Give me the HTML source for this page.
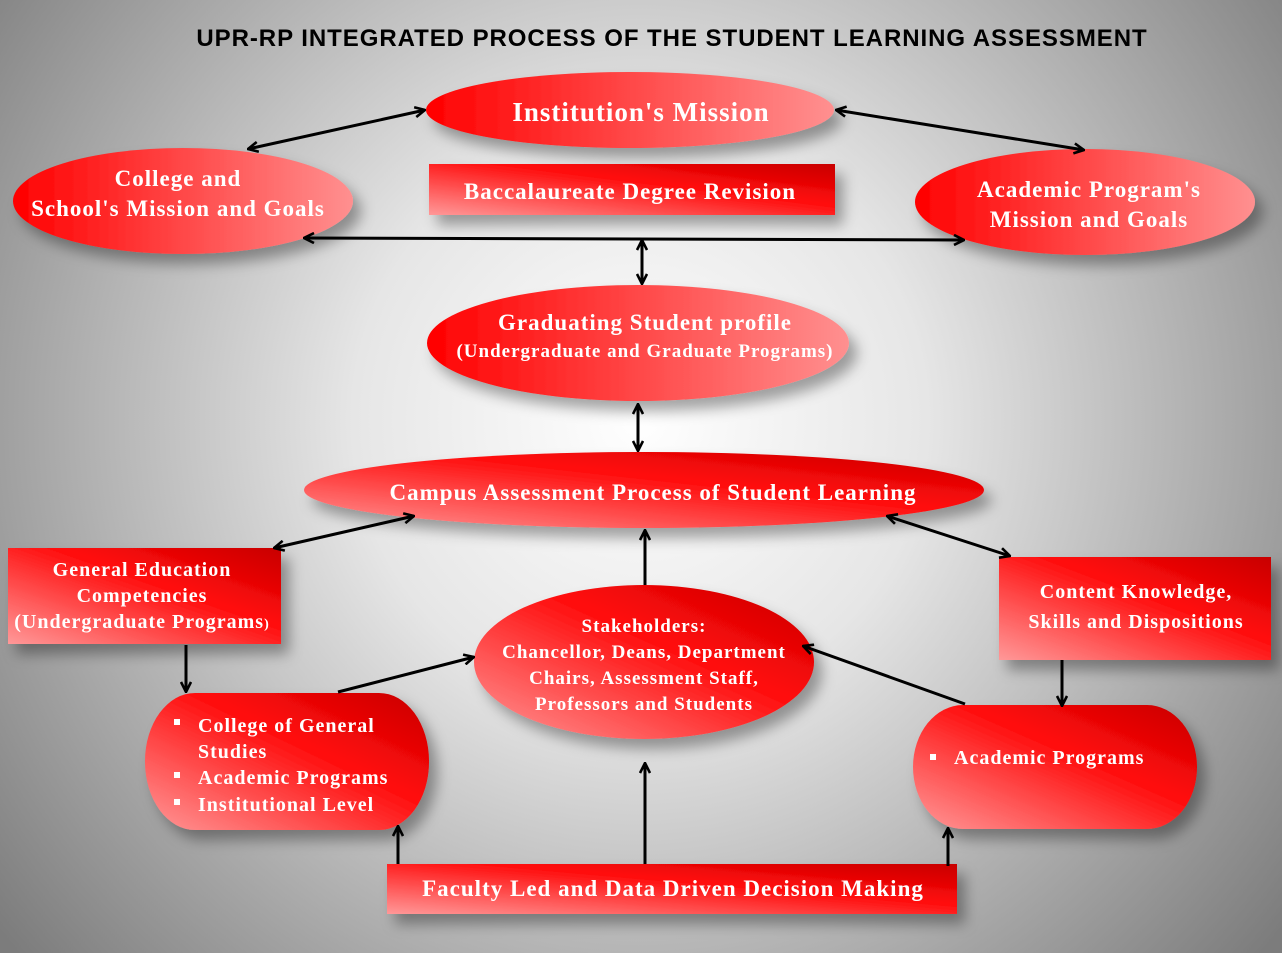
<!DOCTYPE html>
<html><head><meta charset="utf-8"><style>
html,body{margin:0;padding:0;}
body{width:1282px;height:953px;overflow:hidden;}
svg text{font-family:"Liberation Serif",serif;font-weight:bold;fill:#fff;letter-spacing:1px;}
</style></head><body>
<svg width="1282" height="953" xmlns="http://www.w3.org/2000/svg">
<defs>
<radialGradient id="bg" cx="640" cy="420" r="820" gradientUnits="userSpaceOnUse">
<stop offset="0" stop-color="#ffffff"/><stop offset="0.35" stop-color="#e6e6e6"/><stop offset="1" stop-color="#7c7c7c"/>
</radialGradient>
<linearGradient id="h" x1="0" y1="0" x2="1" y2="0">
<stop offset="0" stop-color="#ff0000"/><stop offset="1" stop-color="#ff9090"/>
</linearGradient>
<linearGradient id="d" x1="0" y1="1" x2="1" y2="0">
<stop offset="0" stop-color="#ff9898"/><stop offset="0.6" stop-color="#ff0a0a"/><stop offset="1" stop-color="#c80000"/>
</linearGradient>
<filter id="sh" x="-20%" y="-20%" width="150%" height="160%">
<feDropShadow dx="8" dy="10" stdDeviation="7" flood-color="#000" flood-opacity="0.35"/>
</filter>
<marker id="a" viewBox="0 0 12 12" refX="11" refY="6" markerWidth="12" markerHeight="12" markerUnits="userSpaceOnUse" orient="auto-start-reverse">
<path d="M1,1 L11,6 L1,11" fill="none" stroke="#000" stroke-width="2.6"/>
</marker>
</defs>
<rect width="1282" height="953" fill="url(#bg)"/>
<text x="672" y="46" text-anchor="middle" style="font-family:'Liberation Sans',sans-serif;fill:#000;font-size:24px;letter-spacing:0.95px">UPR-RP INTEGRATED PROCESS OF THE STUDENT LEARNING ASSESSMENT</text>

<g filter="url(#sh)">
<ellipse cx="630" cy="110" rx="204" ry="38" fill="url(#h)"/>
<ellipse cx="183" cy="201" rx="170" ry="53" fill="url(#h)"/>
<ellipse cx="1085" cy="202" rx="170" ry="53" fill="url(#h)"/>
<rect x="429" y="164" width="406" height="51" fill="url(#d)"/>
<ellipse cx="638" cy="343" rx="211" ry="58" fill="url(#h)"/>
<ellipse cx="644" cy="490" rx="340" ry="38" fill="url(#d)"/>
<rect x="8" y="548" width="273" height="96" fill="url(#d)"/>
<rect x="999" y="557" width="272" height="103" fill="url(#d)"/>
<ellipse cx="644" cy="662" rx="170" ry="77" fill="url(#d)"/>
<rect x="145" y="693" width="284" height="137" rx="50" ry="68" fill="url(#d)"/>
<rect x="913" y="705" width="284" height="124" rx="50" ry="62" fill="url(#d)"/>
<rect x="387" y="864" width="570" height="50" fill="url(#d)"/>
</g>

<g stroke="#000" stroke-width="3" fill="none">
<line x1="248" y1="149" x2="425" y2="110" marker-start="url(#a)" marker-end="url(#a)"/>
<line x1="836" y1="110" x2="1084" y2="150" marker-start="url(#a)" marker-end="url(#a)"/>
<line x1="304" y1="238" x2="964" y2="240" marker-start="url(#a)" marker-end="url(#a)"/>
<line x1="642" y1="240" x2="642" y2="284" marker-start="url(#a)" marker-end="url(#a)"/>
<line x1="638" y1="404" x2="638" y2="451" marker-start="url(#a)" marker-end="url(#a)"/>
<line x1="274" y1="548" x2="414" y2="516" marker-start="url(#a)" marker-end="url(#a)"/>
<line x1="887" y1="516" x2="1010" y2="556" marker-start="url(#a)" marker-end="url(#a)"/>
<line x1="186" y1="645" x2="186" y2="692" marker-end="url(#a)"/>
<line x1="1062" y1="660" x2="1062" y2="706" marker-end="url(#a)"/>
<line x1="645" y1="585" x2="645" y2="530" marker-end="url(#a)"/>
<line x1="338" y1="692" x2="474" y2="657" marker-end="url(#a)"/>
<line x1="965" y1="704" x2="803" y2="646" marker-end="url(#a)"/>
<line x1="645" y1="864" x2="645" y2="763" marker-end="url(#a)"/>
<line x1="398" y1="864" x2="398" y2="826" marker-end="url(#a)"/>
<line x1="948" y1="866" x2="948" y2="828" marker-end="url(#a)"/>
</g>

<text x="641" y="121" text-anchor="middle" font-size="27">Institution's Mission</text>
<text x="178" y="186" text-anchor="middle" font-size="23">College and</text>
<text x="178" y="216" text-anchor="middle" font-size="23">School's Mission and Goals</text>
<text x="1089" y="197" text-anchor="middle" font-size="23">Academic Program's</text>
<text x="1089" y="227" text-anchor="middle" font-size="23">Mission and Goals</text>
<text x="630" y="199" text-anchor="middle" font-size="23">Baccalaureate Degree Revision</text>
<text x="645" y="330" text-anchor="middle" font-size="23">Graduating Student profile</text>
<text x="645" y="357" text-anchor="middle" font-size="19">(Undergraduate and Graduate Programs)</text>
<text x="653" y="500" text-anchor="middle" font-size="23">Campus Assessment Process of Student Learning</text>
<text x="142" y="576" text-anchor="middle" font-size="20">General Education</text>
<text x="142" y="602" text-anchor="middle" font-size="20">Competencies</text>
<text x="142" y="628" text-anchor="middle" font-size="20">(Undergraduate Programs<tspan font-size="14">)</tspan></text>
<text x="1136" y="598" text-anchor="middle" font-size="20">Content Knowledge,</text>
<text x="1136" y="628" text-anchor="middle" font-size="20">Skills and Dispositions</text>
<g text-anchor="middle" font-size="19">
<text x="644" y="632">Stakeholders:</text>
<text x="644" y="658">Chancellor, Deans, Department</text>
<text x="644" y="684">Chairs, Assessment Staff,</text>
<text x="644" y="710">Professors and Students</text>
</g>
<g fill="#fff">
<rect x="174" y="719" width="6" height="6"/>
<rect x="174" y="772" width="6" height="6"/>
<rect x="174" y="799" width="6" height="6"/>
<rect x="930" y="754" width="6" height="6"/>
</g>
<g font-size="20">
<text x="198" y="732">College of General</text>
<text x="198" y="758">Studies</text>
<text x="198" y="784">Academic Programs</text>
<text x="198" y="811">Institutional Level</text>
<text x="954" y="764">Academic Programs</text>
</g>
<text x="673" y="896" text-anchor="middle" font-size="23">Faculty Led and Data Driven Decision Making</text>
</svg>
</body></html>
